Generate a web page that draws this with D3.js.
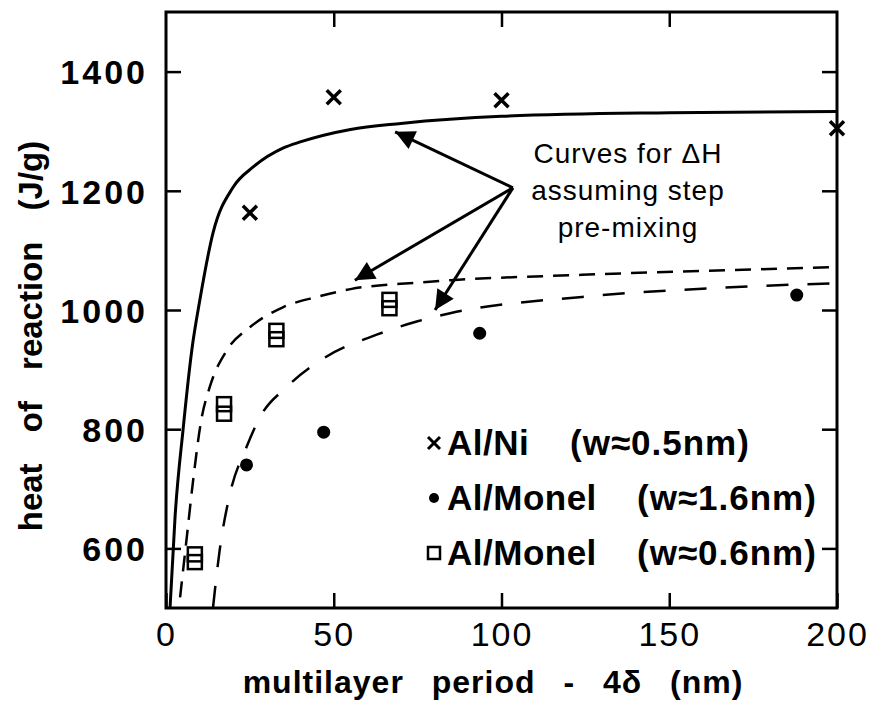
<!DOCTYPE html>
<html>
<head>
<meta charset="utf-8">
<script src="https://cdn.jsdelivr.net/npm/d3@7"></script>
<style>
  body { margin: 0; background: #fff; }
  text { font-family: "Liberation Sans", Arial, sans-serif; fill: #000; }
</style>
</head>
<body>
<svg id="chart" width="876" height="702"></svg>
<script>
// measured points  (period nm, heat J/g)
var alNi = [[25, 1163], [50, 1357], [100, 1352], [200, 1305]];
var monel16 = [[24, 740], [47, 795], [93.5, 961], [188, 1025]];
var monel06 = [[8.6, 590], [8.6, 577], [17.3, 842], [17.3, 826],
               [32.9, 965], [32.9, 951], [66.6, 1017], [66.6, 1003]];

// curves for dH
var curveNi = [[1.2, 500], [2.7, 653], [5.1, 800], [7.7, 933], [10.1, 1017], [14, 1129],
               [20, 1206], [26, 1240], [35, 1272], [40, 1282], [55, 1303], [70, 1313],
               [100, 1325], [150, 1331], [200, 1333]];
var curveMonel06 = [[4.2, 518], [6.2, 619], [8, 710], [10.5, 815], [13, 870], [18.2, 933],
                    [25, 971], [35, 1005], [45, 1022], [55, 1035], [75, 1046], [85, 1050],
                    [124, 1059], [200, 1072]];
var curveMonel16 = [[14, 500], [16, 597], [19, 690], [24, 770], [28, 820], [36, 871],
                    [47, 919], [63, 959], [75, 981], [85, 995], [124, 1022], [164, 1037],
                    [200, 1045]];

var xTicks = [0, 50, 100, 150, 200];
var yTicks = [600, 800, 1000, 1200, 1400];

// arrows: [from, to]
var arrowFrom = [103.4, 1205];
var arrowTo = [[68.3, 1299], [56.3, 1050], [80.2, 1000]];
var noteLines = ["Curves for \u0394H", "assuming step", "pre-mixing"];

var legendRows = [
  {mark: "x", name: "Al/Ni", w: "(w\u22480.5nm)"},
  {mark: "dot", name: "Al/Monel", w: "(w\u22481.6nm)"},
  {mark: "sq", name: "Al/Monel", w: "(w\u22480.6nm)"}
];

var svg = d3.select("#chart");
var L = 166, R = 837, T = 12, B = 608;

var x = d3.scaleLinear().domain([0, 200]).range([L, R]);
var y = d3.scaleLinear().domain([500, 1500]).range([B, T]);

svg.append("defs").append("clipPath").attr("id", "clip")
  .append("rect").attr("x", L).attr("y", T).attr("width", R - L).attr("height", B - T);
svg.select("defs").append("marker")
  .attr("id", "head").attr("viewBox", "0 0 10 10")
  .attr("refX", 10).attr("refY", 5)
  .attr("markerWidth", 9).attr("markerHeight", 6.5)
  .attr("markerUnits", "strokeWidth")
  .attr("orient", "auto")
  .append("path").attr("d", "M0,0L10,5L0,10Z").attr("fill", "#000");

// axes, ticks inward on all four sides
function styleAxis(g) {
  g.select(".domain").remove();
  g.selectAll(".tick line").attr("stroke", "#000").attr("stroke-width", 2.5);
}
svg.append("g").attr("transform", "translate(" + L + ",0)")
  .call(d3.axisLeft(y).tickValues(yTicks).tickSize(-15).tickPadding(18).tickFormat(d3.format("d")))
  .call(styleAxis)
  .selectAll("text").style("font-size", "34px").style("font-weight", "bold")
  .style("letter-spacing", "3px").attr("dy", "0.36em");
svg.append("g").attr("transform", "translate(" + R + ",0)")
  .call(d3.axisRight(y).tickValues(yTicks).tickSize(-15).tickFormat(""))
  .call(styleAxis);
svg.append("g").attr("transform", "translate(0," + B + ")")
  .call(d3.axisBottom(x).tickValues(xTicks).tickSize(-15).tickPadding(14))
  .call(styleAxis)
  .selectAll("text").style("font-size", "34px").style("letter-spacing", "2px").attr("dy", "0.72em");
svg.append("g").attr("transform", "translate(0," + T + ")")
  .call(d3.axisTop(x).tickValues([50, 100, 150]).tickSize(-15).tickFormat(""))
  .call(styleAxis);

svg.append("rect").attr("x", L).attr("y", T).attr("width", R - L).attr("height", B - T)
  .attr("fill", "none").attr("stroke", "#000").attr("stroke-width", 3);

// axis titles
svg.append("text").attr("x", 493).attr("y", 693).attr("text-anchor", "middle")
  .style("font-size", "32px").style("font-weight", "bold")
  .style("letter-spacing", "1px").style("word-spacing", "18px")
  .text("multilayer period - 4\u03b4 (nm)");
svg.append("text").attr("transform", "translate(42,336) rotate(-90)").attr("text-anchor", "middle")
  .style("font-size", "33px").style("font-weight", "bold").style("word-spacing", "22px")
  .text("heat of reaction (J/g)");

// curves
var line = d3.line().x(function(d) { return x(d[0]); }).y(function(d) { return y(d[1]); })
  .curve(d3.curveMonotoneX);
var curves = svg.append("g").attr("clip-path", "url(#clip)").attr("fill", "none").attr("stroke", "#000");
curves.append("path").datum(curveNi).attr("d", line).attr("stroke-width", 3);
curves.append("path").datum(curveMonel06).attr("d", line).attr("stroke-width", 2.5)
  .attr("stroke-dasharray", "16,10");
curves.append("path").datum(curveMonel16).attr("d", line).attr("stroke-width", 2.5)
  .attr("stroke-dasharray", "22,19");

// markers
var crossPath = "M-7,-7L7,7M-7,7L7,-7";
svg.append("g").selectAll("path").data(alNi).enter().append("path")
  .attr("transform", function(d) { return "translate(" + x(d[0]) + "," + y(d[1]) + ")"; })
  .attr("d", crossPath).attr("stroke", "#000").attr("stroke-width", 3.5);
svg.append("g").selectAll("circle").data(monel16).enter().append("circle")
  .attr("cx", function(d) { return x(d[0]); }).attr("cy", function(d) { return y(d[1]); })
  .attr("r", 6.5).attr("fill", "#000");
svg.append("g").selectAll("rect").data(monel06).enter().append("rect")
  .attr("x", function(d) { return x(d[0]) - 7; }).attr("y", function(d) { return y(d[1]) - 7; })
  .attr("width", 14).attr("height", 14)
  .attr("fill", "none").attr("stroke", "#000").attr("stroke-width", 2.5);

// annotation
svg.append("g").selectAll("line").data(arrowTo).enter().append("line")
  .attr("x1", x(arrowFrom[0])).attr("y1", y(arrowFrom[1]))
  .attr("x2", function(d) { return x(d[0]); }).attr("y2", function(d) { return y(d[1]); })
  .attr("stroke", "#000").attr("stroke-width", 3).attr("marker-end", "url(#head)");
svg.append("g").selectAll("text").data(noteLines).enter().append("text")
  .attr("x", 628).attr("y", function(d, i) { return 163 + i * 37; })
  .attr("text-anchor", "middle").style("font-size", "28px").style("letter-spacing", "1px")
  .text(function(d) { return d; });

// legend
var leg = svg.append("g").selectAll("g").data(legendRows).enter().append("g")
  .attr("transform", function(d, i) { return "translate(0," + (455 + i * 55) + ")"; });
leg.append("text").attr("x", 447).style("font-size", "35px").style("font-weight", "bold")
  .style("letter-spacing", "0.5px")
  .text(function(d) { return d.name; });
leg.append("text").attr("x", function(d, i) { return i == 0 ? 570 : 637; })
  .style("font-size", "35px").style("font-weight", "bold").style("letter-spacing", "1px")
  .text(function(d) { return d.w; });
leg.each(function(d) {
  var g = d3.select(this);
  if (d.mark == "x") {
    g.append("path").attr("transform", "translate(434,-12)").attr("d", "M-6,-6L6,6M-6,6L6,-6")
      .attr("stroke", "#000").attr("stroke-width", 3);
  } else if (d.mark == "dot") {
    g.append("circle").attr("cx", 434).attr("cy", -12).attr("r", 5).attr("fill", "#000");
  } else {
    g.append("rect").attr("x", 428).attr("y", -18).attr("width", 12).attr("height", 12)
      .attr("fill", "none").attr("stroke", "#000").attr("stroke-width", 2.5);
  }
});
</script>
</body>
</html>
